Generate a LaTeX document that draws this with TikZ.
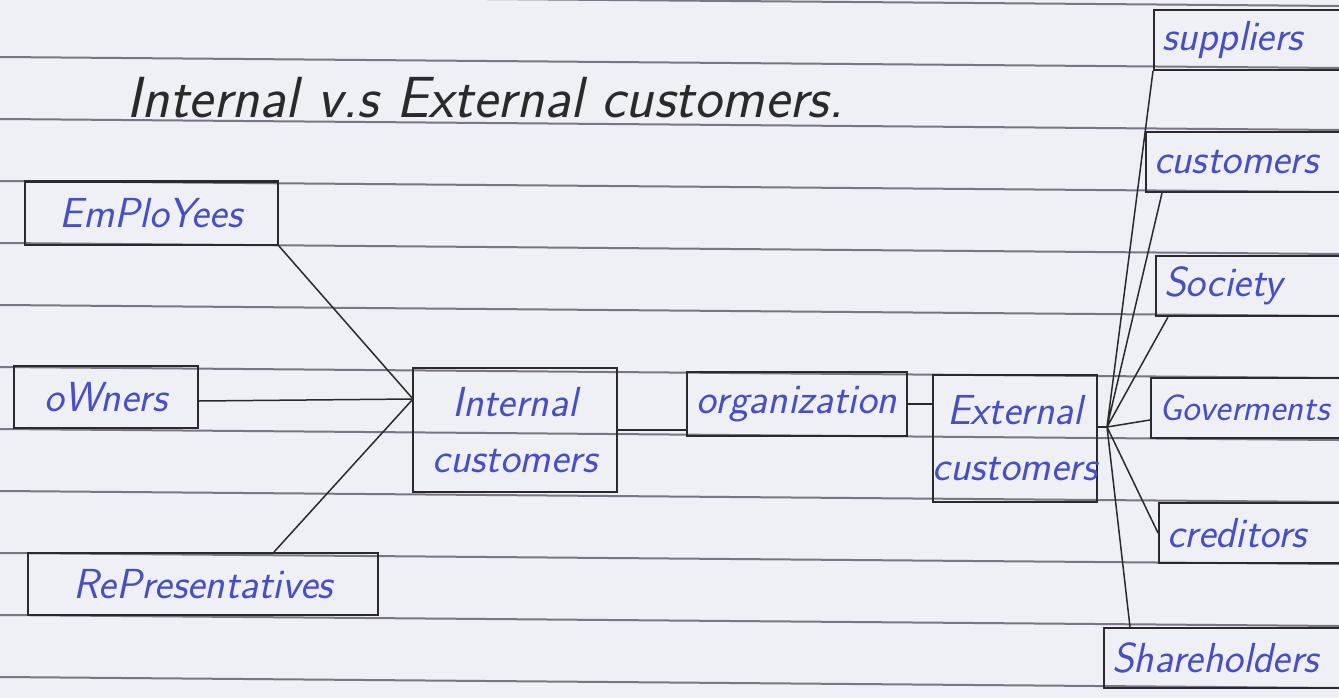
\documentclass[tikz,border=0pt]{standalone}
\usepackage{tikz}
\usepackage{xcolor}
\definecolor{paper}{RGB}{238,240,245}
\definecolor{ruling}{RGB}{122,116,132}
\definecolor{ink}{RGB}{72,78,196}
\definecolor{pen}{RGB}{42,42,44}

\begin{document}
\begin{tikzpicture}[x=1pt,y=-1pt,
  box/.style={draw=pen,line width=2pt,text=ink,inner sep=0pt,font=\sffamily\itshape\fontsize{42}{46}\selectfont},
  rbox/.style={box,anchor=west,minimum height=60pt,text width=260pt,inner xsep=8pt,align=left},
  link/.style={draw=pen,line width=1.5pt}]
\useasboundingbox (0,0) rectangle (1339,698);
\clip (0,0) rectangle (1339,698);
\fill[paper] (0,0) rectangle (1339,698);
% ruled paper
\foreach \k in {0,...,11} {\draw[ruling,line width=2pt] (0,{62*\k-5})--(1339,{62*\k+6});}
\node[text=pen,anchor=base,font=\sffamily\itshape\fontsize{58}{64}\selectfont] (title) at (485,118) {Internal v.s External customers.};
% internal side
\node[box,minimum width=253pt,minimum height=63pt] (emp) at (151,213) {EmPloYees};
\node[box,minimum width=184pt,minimum height=62pt] (own) at (106,397) {oWners};
\node[box,minimum width=350pt,minimum height=62pt] (rep) at (203,584) {RePresentatives};
\node[box,minimum width=204pt,minimum height=124pt,align=center] (int) at (515,430) {Internal\\[10pt]customers};
\node[box,minimum width=220pt,minimum height=64pt] (org) at (797,404) {organization};
\node[box,minimum width=156pt,minimum height=127pt,align=center] (ext) at (1015,438) {External\\[10pt]customers};
% external side
\node[rbox] (sup) at (1153,40) {suppliers};
\node[rbox] (cus) at (1145,162) {customers};
\node[rbox] (soc) at (1155,286) {Society};
\node[rbox,font=\sffamily\itshape\fontsize{37}{42}\selectfont] (gov) at (1150,408) {Goverments};
\node[rbox] (cre) at (1158,533) {creditors};
\node[rbox] (sha) at (1103,658) {Shareholders};
\coordinate (inhub) at (413,399);
\coordinate (exhub) at (1107,427);
\draw[link] (emp.south east)--(inhub);
\draw[link] ([yshift=-4pt]own.east)--(inhub);
\draw[link] ([xshift=-105pt]rep.north east)--(inhub);
\draw[link] (int.east)--(int.east -| org.west);
\draw[link] (org.east)--(org.east -| ext.west);
\draw[link] (exhub -| ext.east)--(exhub);
\draw[link] (exhub)--(sup.south west) (exhub)--([xshift=17pt]cus.south west)
  (exhub)--([xshift=13pt]soc.south west) (exhub)--([yshift=-12pt]gov.west)
  (exhub)--(cre.west) (exhub)--([xshift=27pt]sha.north west);
\end{tikzpicture}
\end{document}
